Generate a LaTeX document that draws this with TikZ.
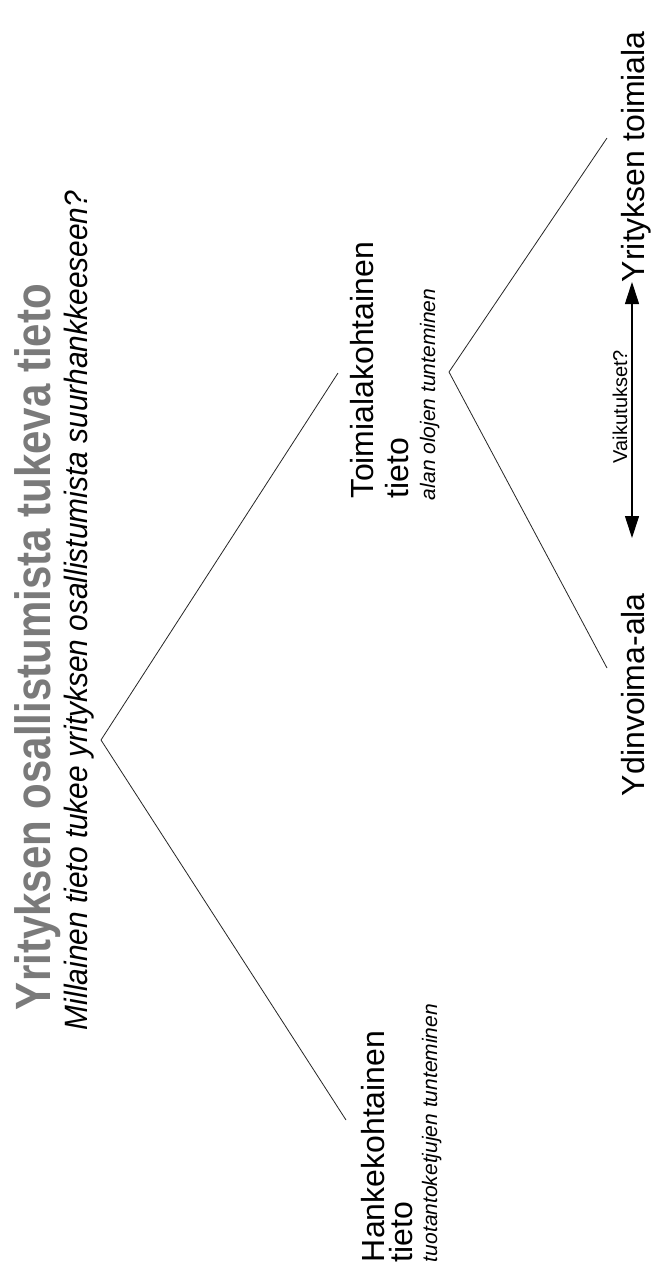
\documentclass[tikz,border=0pt]{standalone}
\usepackage{fontspec}
\setmainfont{Liberation Sans}
\usetikzlibrary{arrows.meta}
\definecolor{titlegray}{RGB}{122,122,122}
\tikzset{
  rot/.style={rotate=90, anchor=base west, inner sep=0pt, outer sep=0pt},
  lbl/.style={rot, font=\fontsize{32}{36}\selectfont},
  sub/.style={rot, font=\fontsize{21}{24}\selectfont\itshape},
  conn/.style={line width=0.8pt, black!85},
}
\begin{document}
\begin{tikzpicture}[x=1pt, y=-1pt]
\useasboundingbox (0,0) rectangle (652,1267);
\fill[white] (0,0) rectangle (652,1267);
% title
\node[rot, text=titlegray, font=\fontsize{42}{46}\selectfont\bfseries] (title) at (50,1010) {\scalebox{1}[1.18]{Yrityksen osallistumista tukeva tieto}};
\node[rot, font=\fontsize{29.9}{34}\selectfont\itshape] (subtitle) at (87,1030) {\scalebox{1}[1.08]{Millainen tieto tukee yrityksen osallistumista suurhankkeeseen?}};
% left branch
\node[lbl] (hanke) at (384,1262) {Hankekohtainen};
\node[lbl] (hanke2) at (412,1262) {tieto};
\node[sub] (hanke3) at (437,1262) {tuotantoketjujen tunteminen};
% right branch
\node[lbl] (toimi) at (373,498) {Toimialakohtainen};
\node[lbl] (toimi2) at (408,498) {tieto};
\node[sub] (toimi3) at (435,500) {alan olojen tunteminen};
% far right
\node[lbl] (ydin) at (644,796) {Ydinvoima-ala};
\node[lbl] (yrit) at (644,282) {Yrityksen toimiala};
\node[rot, font=\fontsize{20}{24}\selectfont] (vaik) at (627,463) {Vaikutukset?};
% connectors
\coordinate (apexA) at (101,740);
\coordinate (endH) at (346,1120);
\coordinate (endT) at (338,373);
\coordinate (apexB) at (449,372);
\coordinate (endY) at (607,668);
\coordinate (endR) at (607,138);
\draw[conn] (endT) -- (apexA) -- (endH);
\draw[conn] (endR) -- (apexB) -- (endY);
\coordinate (arrTop) at (632,282);
\coordinate (arrBot) at (632,538);
\draw[line width=1.1pt, {Triangle[length=22pt,width=14pt]}-{Triangle[length=22pt,width=14pt]}] (arrTop) -- (arrBot);
\end{tikzpicture}
\end{document}
